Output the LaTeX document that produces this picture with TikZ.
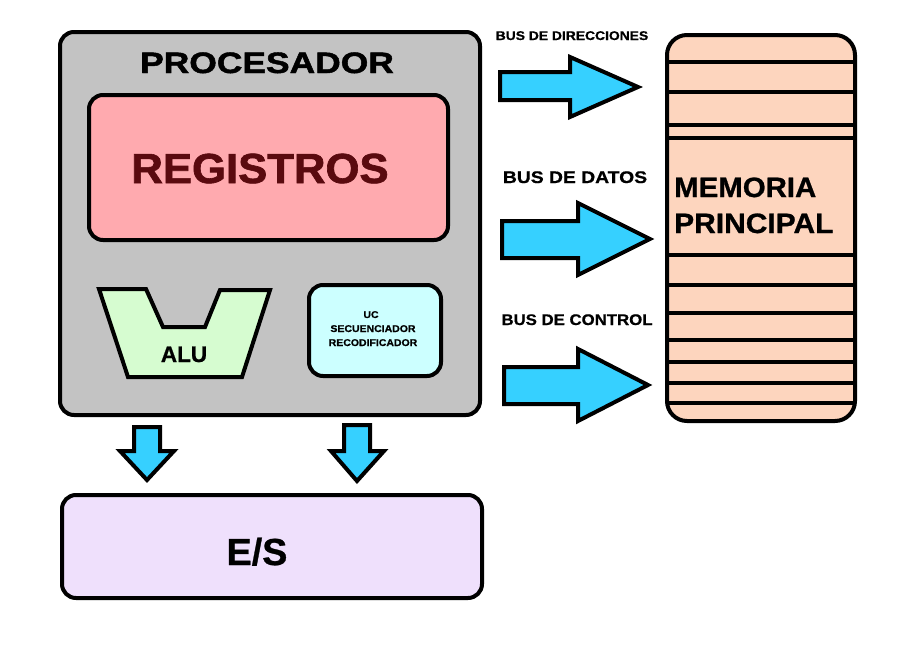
\documentclass[tikz,border=0pt]{standalone}
\usepackage{fontspec}
\setmainfont{Liberation Sans}[BoldFont={Liberation Sans Bold}]
\newfontfamily\hvb{Liberation Sans Bold}[FakeBold=0.8]
\newfontfamily\hvblack{Liberation Sans Bold}[FakeBold=1.5]
\definecolor{procgray}{RGB}{195,195,195}
\definecolor{regpink}{RGB}{255,170,175}
\definecolor{regtext}{RGB}{90,10,15}
\definecolor{alugreen}{RGB}{214,252,208}
\definecolor{uccyan}{RGB}{204,255,255}
\definecolor{mempeach}{RGB}{253,213,190}
\definecolor{eslav}{RGB}{239,224,252}
\definecolor{busblue}{RGB}{54,208,255}
\begin{document}
\begin{tikzpicture}[x=1pt,y=-1pt,
  blk/.style={draw=black, line width=4pt, rounded corners=14pt, inner sep=0pt},
  busarrow/.style={draw=black, line width=4pt, fill=busblue, line join=miter},
  lbl/.style={inner sep=0pt, anchor=base, font=\hvb},
]
\useasboundingbox (0,0) rectangle (924,648);
% processor
\node[blk, fill=procgray, minimum width=420pt, minimum height=383pt] (proc) at (270,223.5) {};
\node[lbl] (proct) at (267,73) {\hvblack\fontsize{29.5}{30}\selectfont\scalebox{1.2}[1]{PROCESADOR}};
% registers
\node[blk, fill=regpink, minimum width=359pt, minimum height=145pt] (reg) at (268.5,167.5) {};
\node[lbl, text=regtext] (regt) at (260,183) {\hvblack\fontsize{42}{42}\selectfont\scalebox{1.04}[1]{REGISTROS}};
% ALU
\draw[draw=black, line width=4pt, fill=alugreen, line join=miter]
  (99,289) -- (146,289) -- (163,327) -- (205,327) -- (220,290) -- (270,290) -- (242,377) -- (128,377) -- cycle;
\node[lbl] (alut) at (184,362) {\fontsize{22.5}{23}\selectfont ALU};
% UC
\node[blk, fill=uccyan, minimum width=132pt, minimum height=91pt] (uc) at (375,330.5) {};
\node[lbl] (uc1) at (371,318) {\fontsize{9.8}{10}\selectfont\scalebox{1.07}[1]{UC}};
\node[lbl] (uc2) at (373,332) {\fontsize{9.8}{10}\selectfont\scalebox{1.07}[1]{SECUENCIADOR}};
\node[lbl] (uc3) at (373,346) {\fontsize{9.8}{10}\selectfont\scalebox{1.07}[1]{RECODIFICADOR}};
% memory
\node[blk, fill=mempeach, rounded corners=20pt, minimum width=188pt, minimum height=386pt] (mem) at (761,228) {};
\foreach \yy in {62,92,125,138,255,285,313,340,362,383,403}
  \draw[line width=4pt] (667,\yy) -- (855,\yy);
\node[lbl, anchor=base west] (memt1) at (674,197) {\fontsize{28}{28}\selectfont\scalebox{1.05}[1]{MEMORIA}};
\node[lbl, anchor=base west] (memt2) at (674,233) {\fontsize{28}{28}\selectfont\scalebox{1.07}[1]{PRINCIPAL}};
% bus arrows
\draw[busarrow] (500,72) -- (570,72) -- (570,57) -- (638,87) -- (570,117) -- (570,100) -- (500,100) -- cycle;
\draw[busarrow] (502,221) -- (578,221) -- (578,203) -- (650,239) -- (578,275) -- (578,258) -- (502,258) -- cycle;
\draw[busarrow] (504,367) -- (578,367) -- (578,349) -- (648,385) -- (578,421) -- (578,404) -- (504,404) -- cycle;
\node[lbl] (bus1) at (572,40) {\fontsize{12.6}{13}\selectfont\scalebox{1.1}[1]{BUS DE DIRECCIONES}};
\node[lbl] (bus2) at (575,183) {\fontsize{16.8}{17}\selectfont\scalebox{1.15}[1]{BUS DE DATOS}};
\node[lbl] (bus3) at (577,325) {\fontsize{15.4}{16}\selectfont\scalebox{1.09}[1]{BUS DE CONTROL}};
% down arrows
\draw[busarrow] (134,427) -- (160,427) -- (160,451) -- (174,451) -- (147,480) -- (120,451) -- (134,451) -- cycle;
\draw[busarrow] (344,425) -- (370,425) -- (370,451) -- (384,451) -- (357,481) -- (331,451) -- (344,451) -- cycle;
% E/S
\node[blk, fill=eslav, minimum width=420pt, minimum height=103pt] (es) at (272,546.5) {};
\node[lbl] (est) at (257,565) {\fontsize{37.7}{38}\selectfont E/S};
\end{tikzpicture}
\end{document}
